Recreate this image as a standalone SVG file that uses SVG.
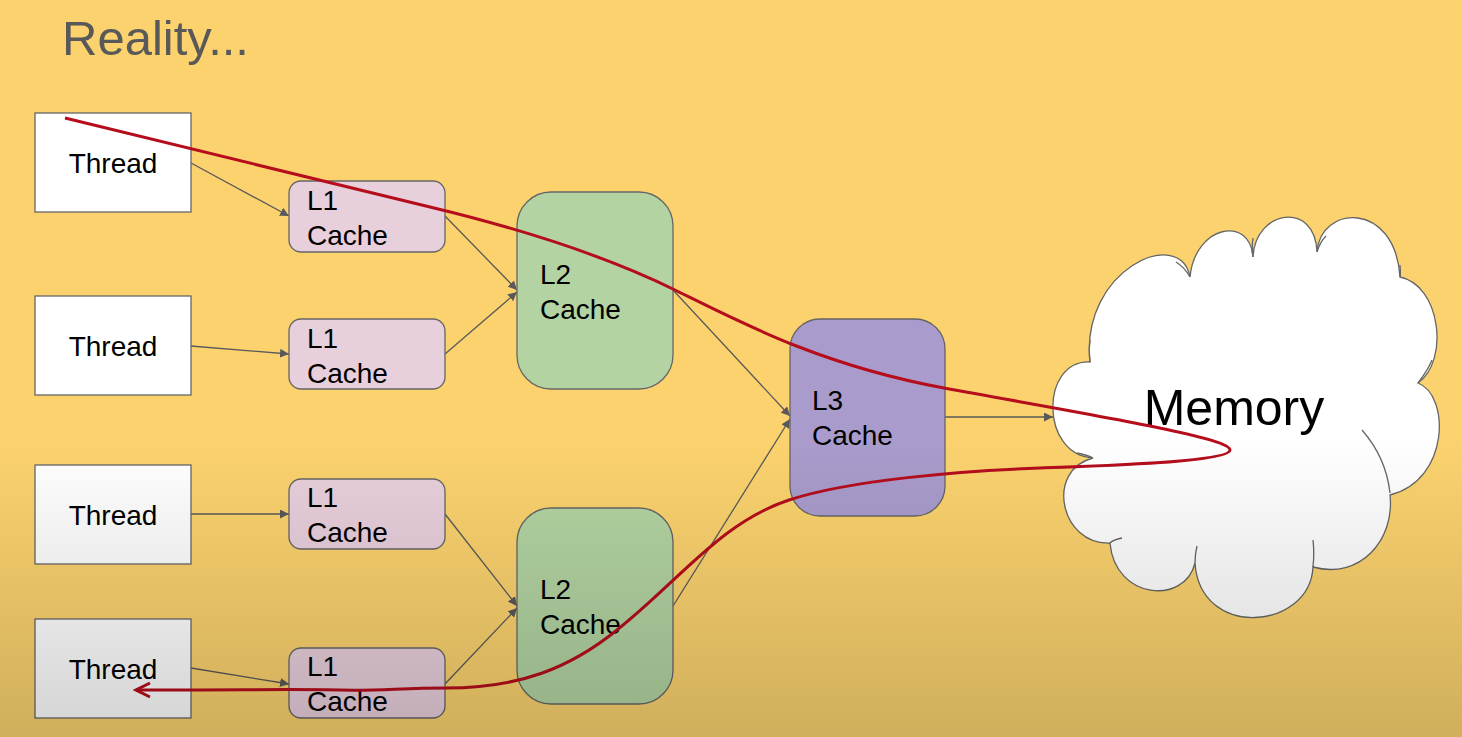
<svg xmlns="http://www.w3.org/2000/svg" width="1462" height="737" viewBox="0 0 1462 737">
<defs>
<style>
.txt{font-family:"Liberation Sans",Arial,sans-serif;fill:#000}
.thread rect{fill:#fff;stroke:#666;stroke-width:1.3}
.l1 rect{fill:#e8cfdc;stroke:#666;stroke-width:1.3}
.l2 rect{fill:#b3d4a2;stroke:#666;stroke-width:1.3}
.l3 rect{fill:#a99ccc;stroke:#666;stroke-width:1.3}
.conn line{stroke:#595959;stroke-width:1.3;fill:none}
.cloud{fill:#fff;stroke:#666;stroke-width:1.3}
.inner{fill:none;stroke:#666;stroke-width:1.3}
</style>
<marker id="arr" viewBox="0 0 10 10" refX="10" refY="5" markerWidth="9" markerHeight="9" markerUnits="userSpaceOnUse" orient="auto">
<path d="M0,0 L10,5 L0,10 Z" fill="#595959"/>
</marker>
<marker id="redarr" viewBox="0 0 20 20" refX="17" refY="10" markerWidth="20" markerHeight="20" markerUnits="userSpaceOnUse" orient="auto">
<path d="M3,3 L17,10 L3,17" fill="none" stroke="#b50d1c" stroke-width="3"/>
</marker>
<linearGradient id="shade" x1="0" y1="0" x2="0" y2="1">
<stop offset="0" stop-color="#000" stop-opacity="0"/>
<stop offset="1" stop-color="#000" stop-opacity="0.17"/>
</linearGradient>
</defs>
<rect x="0" y="0" width="1462" height="737" fill="#fbd26e"/>
<text id="title" class="txt" x="62" y="55" font-size="49" style="fill:#595959">Reality...</text>

<g id="connectors" class="conn">
<line x1="191" y1="163" x2="289" y2="216" marker-end="url(#arr)"/>
<line x1="191" y1="346" x2="289" y2="354" marker-end="url(#arr)"/>
<line x1="191" y1="514" x2="289" y2="514" marker-end="url(#arr)"/>
<line x1="191" y1="668" x2="289" y2="684" marker-end="url(#arr)"/>
<line x1="445" y1="216" x2="517" y2="290" marker-end="url(#arr)"/>
<line x1="445" y1="354" x2="517" y2="292" marker-end="url(#arr)"/>
<line x1="445" y1="514" x2="517" y2="606" marker-end="url(#arr)"/>
<line x1="445" y1="684" x2="517" y2="608" marker-end="url(#arr)"/>
<line x1="673" y1="290" x2="790" y2="416" marker-end="url(#arr)"/>
<line x1="673" y1="606" x2="790" y2="419" marker-end="url(#arr)"/>
<line x1="945" y1="417" x2="1053" y2="417" marker-end="url(#arr)"/>
</g>

<g id="thread1" class="thread"><rect x="35" y="113" width="156" height="99"/><text class="txt" x="113" y="173" font-size="28" text-anchor="middle">Thread</text></g>
<g id="thread2" class="thread"><rect x="35" y="296" width="156" height="99"/><text class="txt" x="113" y="356" font-size="28" text-anchor="middle">Thread</text></g>
<g id="thread3" class="thread"><rect x="35" y="465" width="156" height="99"/><text class="txt" x="113" y="525" font-size="28" text-anchor="middle">Thread</text></g>
<g id="thread4" class="thread"><rect x="35" y="619" width="156" height="99"/><text class="txt" x="113" y="679" font-size="28" text-anchor="middle">Thread</text></g>

<g id="l1a" class="l1"><rect x="289" y="181" width="156" height="71" rx="12"/><text class="txt" x="307" y="210" font-size="28">L1</text><text class="txt" x="307" y="245" font-size="28">Cache</text></g>
<g id="l1b" class="l1"><rect x="289" y="319" width="156" height="70" rx="12"/><text class="txt" x="307" y="348" font-size="28">L1</text><text class="txt" x="307" y="383" font-size="28">Cache</text></g>
<g id="l1c" class="l1"><rect x="289" y="479" width="156" height="70" rx="12"/><text class="txt" x="307" y="507" font-size="28">L1</text><text class="txt" x="307" y="542" font-size="28">Cache</text></g>
<g id="l1d" class="l1"><rect x="289" y="648" width="156" height="70" rx="12"/><text class="txt" x="307" y="676" font-size="28">L1</text><text class="txt" x="307" y="711" font-size="28">Cache</text></g>

<g id="l2a" class="l2"><rect x="517" y="192" width="156" height="197" rx="34"/><text class="txt" x="540" y="284" font-size="28">L2</text><text class="txt" x="540" y="319" font-size="28">Cache</text></g>
<g id="l2b" class="l2"><rect x="517" y="508" width="156" height="196" rx="34"/><text class="txt" x="540" y="599" font-size="28">L2</text><text class="txt" x="540" y="634" font-size="28">Cache</text></g>

<g id="l3" class="l3"><rect x="790" y="319" width="155" height="197" rx="30"/><text class="txt" x="812" y="410" font-size="28">L3</text><text class="txt" x="812" y="445" font-size="28">Cache</text></g>

<g id="memory">
<path class="cloud" d="M1090,362 C1080,270 1180,225 1190,277 C1195,225 1250,215 1253,257 C1255,210 1315,200 1317,252 C1320,205 1395,200 1400,277 C1440,285 1450,360 1418,383 C1450,395 1450,480 1390,495 C1395,540 1360,580 1313,567 C1310,630 1200,640 1195,563 C1185,605 1115,600 1110,543 C1060,545 1045,470 1093,458 C1040,455 1040,360 1090,362 Z"/>
<path class="inner" d="M1090,362 C1089,353 1089,347 1090,340 M1190,277 C1186,270 1181,265 1176,262 M1253,257 C1252,250 1252,244 1253,238 M1317,252 C1319,245 1322,240 1326,236 M1400,277 C1401,272 1400,268 1400,265 M1418,383 C1424,375 1429,368 1432,360 M1362,430 C1376,446 1387,466 1390,493 M1313,567 C1314,558 1314,549 1313,540 M1195,563 C1195,556 1196,550 1197,546 M1110,543 C1113,540 1117,539 1122,538 M1093,458 C1087,455 1082,454 1077,453"/>
<text class="txt" x="1234" y="425" font-size="50" text-anchor="middle">Memory</text>
</g>

<g id="redpath">
<path d="M65,118 L430,207 C530,231 610,258 675,290 C740,322 820,365 944,388 C1080,413 1230,437 1230,450 C1230,462 1100,466 1040,468 C960,471 850,480 789,500 C720,523 680,580 617,630 C570,668 520,688 446,688 C400,688 380,691 340,690 C300,689 250,690 136,690" fill="none" stroke="#b50d1c" stroke-width="3" marker-end="url(#redarr)"/>
</g>

<rect x="0" y="440" width="1462" height="297" fill="url(#shade)"/>
</svg>
